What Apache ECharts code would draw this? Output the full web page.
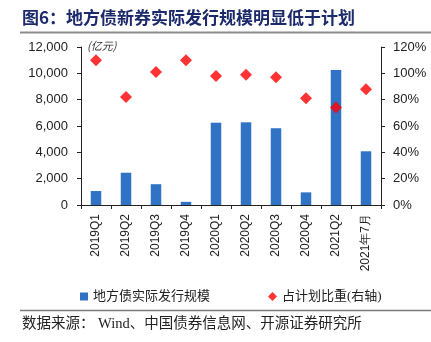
<!DOCTYPE html>
<html>
<head>
<meta charset="utf-8">
<script src="https://cdn.jsdelivr.net/npm/echarts@6/dist/echarts.min.js"></script>
<style>
  html, body { margin: 0; padding: 0; background: #fff; }
  #chart { width: 431px; height: 342px; }
</style>
</head>
<body>
<div id="chart"></div>
<script>
// Quarterly local-government new bond issuance vs. plan
const categories = ['2019Q1', '2019Q2', '2019Q3', '2019Q4', '2020Q1', '2020Q2', '2020Q3', '2020Q4', '2021Q2', '2021年7月'];
// Actual issuance, 亿元
const issuance = [1060, 2450, 1580, 240, 6250, 6280, 5830, 960, 10250, 4080];
// Share of planned amount, %
const planShare = [110, 82, 101, 110, 98, 99, 97, 81, 74, 88];
const leftTicks = [0, 2000, 4000, 6000, 8000, 10000, 12000];
const rightTicks = [0, 20, 40, 60, 80, 100, 120];

const numFont = '"Liberation Sans", Arial, sans-serif';
const cjkFont = '"Liberation Serif", "Noto Sans CJK SC", serif';

const chart = echarts.init(document.getElementById('chart'), null, { renderer: 'canvas' });

chart.setOption({
  animation: false,
  backgroundColor: '#fff',
  grid: { left: 81, right: 50, top: 47, bottom: 137 },
  legend: [
    {
      left: 75, top: 285,
      itemWidth: 8, itemHeight: 8, itemGap: 4,
      textStyle: { fontFamily: cjkFont, fontSize: 13, color: '#222' },
      data: [{ name: '地方债实际发行规模', icon: 'rect' }]
    },
    {
      left: 263, top: 285,
      itemWidth: 9, itemHeight: 9, itemGap: 4,
      textStyle: { fontFamily: cjkFont, fontSize: 13, color: '#222' },
      data: [{ name: '占计划比重(右轴)', icon: 'diamond' }]
    }
  ],
  xAxis: {
    type: 'category',
    data: categories,
    axisLine: { lineStyle: { color: '#222', width: 1 } },
    axisTick: { show: true, length: 4, lineStyle: { color: '#222' } },
    axisLabel: {
      rotate: 90, margin: 9, interval: 0,
      fontFamily: numFont, fontSize: 12, color: '#222'
    }
  },
  yAxis: [
    {
      type: 'value', min: leftTicks[0], max: leftTicks[leftTicks.length - 1], interval: 2000,
      axisLine: { show: true, lineStyle: { color: '#222' } },
      axisTick: { show: true, length: 4, lineStyle: { color: '#222' } },
      splitLine: { show: false },
      axisLabel: {
        margin: 13, fontFamily: numFont, fontSize: 13, color: '#222',
        formatter: v => v.toLocaleString('en-US')
      }
    },
    {
      type: 'value', min: rightTicks[0], max: rightTicks[rightTicks.length - 1], interval: 20,
      position: 'right',
      axisLine: { show: true, lineStyle: { color: '#222' } },
      axisTick: { show: true, length: 4, lineStyle: { color: '#222' } },
      splitLine: { show: false },
      axisLabel: {
        margin: 12, fontFamily: numFont, fontSize: 13, color: '#222',
        formatter: v => v + '%'
      }
    }
  ],
  series: [
    {
      name: '地方债实际发行规模',
      type: 'bar',
      data: issuance,
      barWidth: 10.5,
      itemStyle: { color: '#3072C4' }
    },
    {
      name: '占计划比重(右轴)',
      type: 'scatter',
      yAxisIndex: 1,
      data: planShare,
      symbol: 'diamond',
      symbolSize: 12,
      itemStyle: { color: '#FF0000' }
    }
  ],
  graphic: [
    {
      type: 'text', left: 22, top: 9,
      style: {
        text: '图6：地方债新券实际发行规模明显低于计划',
        font: 'bold 17px "Noto Sans CJK SC", sans-serif',
        fill: '#1c2a6b'
      }
    },
    {
      type: 'line',
      shape: { x1: 20, y1: 32.5, x2: 431, y2: 32.5 },
      style: { stroke: '#8c8c8c', lineWidth: 2 }
    },
    {
      type: 'text', left: 87, top: 40,
      style: {
        text: '(亿元)',
        font: 'italic 11px "Noto Sans CJK SC", sans-serif',
        fill: '#333'
      }
    },
    {
      type: 'line',
      shape: { x1: 20, y1: 310.5, x2: 431, y2: 310.5 },
      style: { stroke: '#7a7a7a', lineWidth: 1.5 }
    },
    {
      type: 'text', left: 22, top: 317,
      style: {
        text: '数据来源： Wind、中国债券信息网、开源证券研究所',
        font: '14.5px "Liberation Serif", "Noto Sans CJK SC", serif',
        fill: '#222'
      }
    }
  ]
});
</script>
</body>
</html>
